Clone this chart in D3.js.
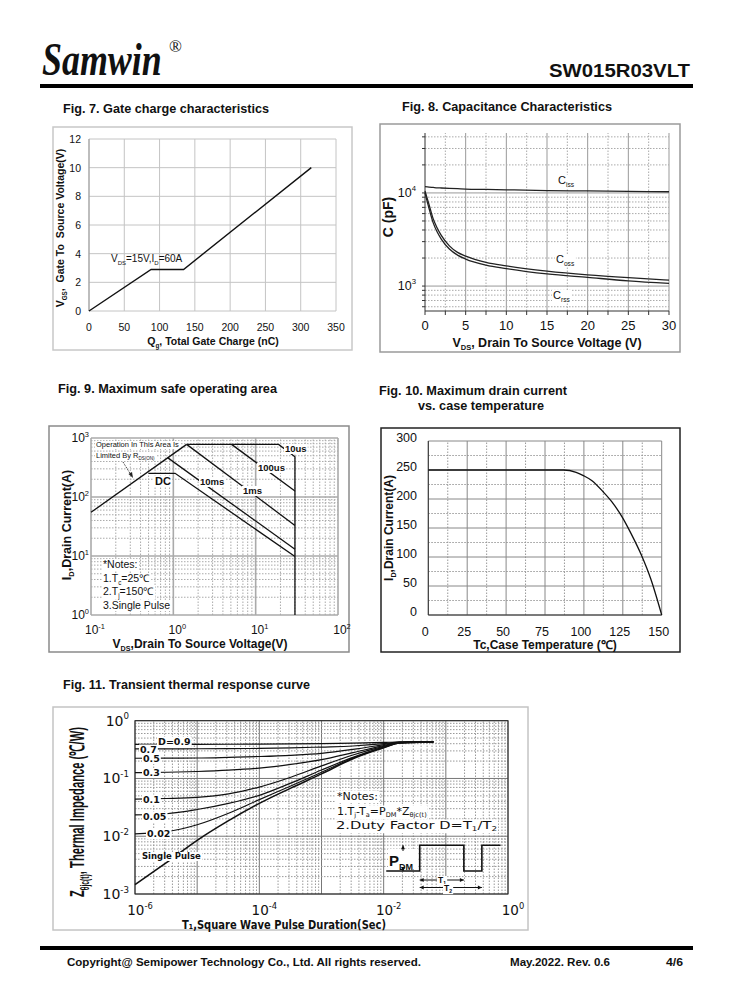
<!DOCTYPE html>
<html>
<head>
<meta charset="utf-8">
<script src="https://cdn.jsdelivr.net/npm/d3@7"></script>
<style>
  body { margin: 0; background: #fff; }
  svg { display: block; }
  text { font-family: 'Liberation Sans', Arial, sans-serif; fill: #111; white-space: pre; }
</style>
</head>
<body>
<svg id="page" width="738" height="1000"></svg>
<script>
// ---- data
// fig 7: gate charge (nC, V)
const gateCharge = [[0, 0], [88, 2.9], [134, 2.9], [315, 10]]
const gateXTicks = [0, 50, 100, 150, 200, 250, 300, 350]
const gateYTicks = [0, 2, 4, 6, 8, 10, 12]

// fig 8: capacitance (V, pF)
const capVds = [0, 0.5, 1, 1.5, 2, 3, 4, 5, 7.5, 10, 15, 20, 25, 30]
const ciss = [11700, 11550, 11450, 11350, 11300, 11200, 11100, 11000, 10900, 10800, 10600, 10500, 10400, 10300]
const coss = [10500, 7500, 5300, 4200, 3500, 2700, 2300, 2100, 1800, 1650, 1450, 1320, 1230, 1160]
const crss = [10000, 6800, 4800, 3800, 3200, 2500, 2150, 1950, 1680, 1540, 1350, 1240, 1140, 1070]
const capXTicks = [0, 5, 10, 15, 20, 25, 30]

// fig 9: safe operating area (V, A)
const soaRds = [[0.1, 55], [1.45, 780]]
const soa10us = [[1.45, 780], [19, 780], [30, 480], [30, 1]]
const soa100us = [[5.1, 780], [30, 126]]
const soa1ms = [[1.45, 780], [30, 33]]
const soa10ms = [[0.85, 465], [30, 13]]
const soaDC = [[0.5, 252], [1.05, 252], [30, 9.8]]
const soaNotes = ['*Notes:', '1.T|c|=25℃', '2.T|j|=150℃', '3.Single Pulse']

// fig 10: drain current vs case temperature (℃, A)
const derate = [[0, 250], [25, 250], [50, 250], [75, 250], [87, 250], [95, 246], [100, 240], [105, 232],
  [112.5, 212], [118, 195], [125, 167], [130, 142], [137, 103], [143, 62], [150, 0]]
const derateXTicks = [0, 25, 50, 75, 100, 125, 150]
const derateYTicks = [0, 50, 100, 150, 200, 250, 300]

// fig 11: transient thermal impedance (s, ℃/W)
const zthT = [1e-6, 3.2e-6, 1e-5, 3.2e-5, 1e-4, 3.2e-4, 1e-3, 3.2e-3, 1e-2, 1.8e-2, 6.3e-2]
const zthSeries = [
  {label: 'D=0.9', v: [0.39, 0.39, 0.39, 0.391, 0.393, 0.396, 0.40, 0.41, 0.42, 0.428, 0.43]},
  {label: '0.7', v: [0.324, 0.325, 0.327, 0.329, 0.331, 0.338, 0.35, 0.365, 0.40, 0.427, 0.43]},
  {label: '0.5', v: [0.224, 0.225, 0.226, 0.232, 0.24, 0.252, 0.272, 0.318, 0.385, 0.425, 0.43]},
  {label: '0.3', v: [0.126, 0.128, 0.132, 0.139, 0.151, 0.175, 0.212, 0.28, 0.37, 0.42, 0.43]},
  {label: '0.1', v: [0.044, 0.045, 0.047, 0.054, 0.071, 0.105, 0.165, 0.255, 0.36, 0.415, 0.43]},
  {label: '0.05', v: [0.0234, 0.0245, 0.029, 0.037, 0.051, 0.083, 0.14, 0.232, 0.35, 0.412, 0.43]},
  {label: '0.02', v: [0.011, 0.012, 0.0158, 0.025, 0.043, 0.074, 0.128, 0.225, 0.345, 0.41, 0.43]},
  {label: 'Single Pulse', v: [0.00145, 0.0035, 0.0085, 0.0186, 0.037, 0.068, 0.12, 0.22, 0.34, 0.41, 0.43]}
]
const pulseInset = [[0.011, 0.0025], [0.038, 0.0025], [0.038, 0.007], [0.195, 0.007], [0.195, 0.0025],
  [0.38, 0.0025], [0.38, 0.007], [0.76, 0.007]]

// ---- helpers
const svg = d3.select('#page')

const logTicks = (domain) => {
  const out = []
  const lo = Math.floor(Math.log10(domain[0]))
  const hi = Math.ceil(Math.log10(domain[1]))
  for (let e = lo; e <= hi; e++) {
    for (let m = 1; m <= 9; m++) {
      const v = m * Math.pow(10, e)
      if (v >= domain[0] * 0.999 && v <= domain[1] * 1.001) out.push({v, major: m === 1})
    }
  }
  return out
}

// label like 10^n
const powText = (g, x, y, exp, size, anchor) => {
  const t = g.append('text').attr('x', x).attr('y', y)
    .attr('font-size', size).attr('text-anchor', anchor || 'middle')
  t.append('tspan').text('10')
  t.append('tspan').attr('dy', -size * 0.45).attr('font-size', size * 0.62).text(exp)
  return t
}

// text with |sub| parts; 'box' puts a white patch behind it like the datasheet labels
const subText = (g, x, y, s, size, opts = {}) => {
  const t = g.append('text').attr('x', x).attr('y', y).attr('font-size', size)
  if (opts.bold) t.attr('font-weight', 'bold')
  if (opts.anchor) t.attr('text-anchor', opts.anchor)
  if (opts.family) t.style('font-family', opts.family)
  if (opts.len) t.attr('textLength', opts.len).attr('lengthAdjust', 'spacingAndGlyphs')
  s.split('|').forEach((part, i) => {
    if (!part) return
    const sub = i % 2 === 1
    const afterSub = i % 2 === 0 && i > 0
    t.append('tspan')
      .attr('dy', sub ? size * 0.25 : afterSub ? -size * 0.25 : 0)
      .attr('font-size', sub ? size * 0.6 : size)
      .text(part)
  })
  if (opts.box) {
    const b = t.node().getBBox()
    g.insert('rect', () => t.node())
      .attr('x', b.x - 1).attr('y', b.y + 1).attr('width', b.width + 2).attr('height', b.height - 1)
      .attr('fill', '#fff')
  }
  return t
}

const title = (x, y, s, len) => {
  svg.append('text').attr('x', x).attr('y', y).attr('font-size', 12.5)
    .attr('font-weight', 'bold').attr('textLength', len).attr('lengthAdjust', 'spacingAndGlyphs').text(s)
}

const frame = (x0, y0, x1, y1, color, w) => {
  svg.append('rect').attr('x', x0).attr('y', y0).attr('width', x1 - x0).attr('height', y1 - y0)
    .attr('fill', 'none').attr('stroke', color).attr('stroke-width', w)
}

const lineGen = (x, y, curve) => d3.line().x(d => x(d[0])).y(d => y(d[1])).curve(curve || d3.curveLinear)

// ---- page header and footer
// logo is squeezed sideways like the printed one
svg.append('text').attr('transform', 'translate(42,75) scale(0.78,1)').attr('font-size', 46)
  .attr('font-weight', 'bold').attr('font-style', 'italic')
  .style('font-family', "'Liberation Serif', 'Times New Roman', serif").text('Samwin')
svg.append('text').attr('x', 169).attr('y', 52).attr('font-size', 17)
  .style('font-family', "'Liberation Serif', serif").text('®')
svg.append('text').attr('x', 549).attr('y', 77).attr('font-size', 18).attr('font-weight', 'bold')
  .attr('textLength', 141).attr('lengthAdjust', 'spacingAndGlyphs').text('SW015R03VLT')
svg.append('rect').attr('x', 40).attr('y', 84).attr('width', 653).attr('height', 4).attr('fill', '#000')

svg.append('rect').attr('x', 40).attr('y', 946).attr('width', 653).attr('height', 4).attr('fill', '#000')
const foot = (x, s, len) => svg.append('text').attr('x', x).attr('y', 966).attr('font-size', 11.5)
  .attr('font-weight', 'bold').attr('textLength', len).attr('lengthAdjust', 'spacingAndGlyphs').text(s)
foot(67, 'Copyright@ Semipower Technology Co., Ltd. All rights reserved.', 354)
foot(510, 'May.2022. Rev. 0.6', 100)
foot(666, '4/6', 17)

// ---- fig 7: gate charge
{
  title(63, 113, 'Fig. 7. Gate charge characteristics', 206)
  frame(53, 127, 352, 350, '#c8c8c8', 1.5)
  const x = d3.scaleLinear([0, 350], [89, 336])
  const y = d3.scaleLinear([0, 12], [311, 139])
  const g = svg.append('g')
  g.selectAll('.vx').data(gateXTicks).join('line')
    .attr('x1', d => x(d)).attr('x2', d => x(d)).attr('y1', y(0)).attr('y2', y(12))
    .attr('stroke', '#c4c4c4')
  g.selectAll('.hy').data(gateYTicks).join('line').attr('class', 'hy')
    .attr('x1', x(0)).attr('x2', x(350)).attr('y1', d => y(d)).attr('y2', d => y(d))
    .attr('stroke', '#c4c4c4')
  g.append('line').attr('x1', x(0)).attr('x2', x(0)).attr('y1', y(0)).attr('y2', y(12)).attr('stroke', '#999')
  g.selectAll('.xl').data(gateXTicks).join('text').attr('class', 'xl')
    .attr('x', d => x(d)).attr('y', 330.5).attr('text-anchor', 'middle').attr('font-size', 10.5)
    .attr('fill', '#333').text(d => d)
  g.selectAll('.yl').data(gateYTicks).join('text').attr('class', 'yl')
    .attr('x', 81).attr('y', d => y(d) + 4).attr('text-anchor', 'end').attr('font-size', 10.5)
    .attr('fill', '#333').text(d => d)
  g.append('path').datum(gateCharge).attr('d', lineGen(x, y)).attr('fill', 'none')
    .attr('stroke', '#111').attr('stroke-width', 1.4)
  subText(g, 111, 262, 'V|DS|=15V,I|D|=60A', 10, {})
  subText(g, 213, 345, 'Q|g|, Total Gate Charge (nC)', 10.5, {bold: true, anchor: 'middle'})
  const yt = g.append('g').attr('transform', 'translate(64,228) rotate(-90)')
  subText(yt, 0, 0, 'V|GS|,  Gate To  Source Voltage(V)', 10.5, {bold: true, anchor: 'middle'})
}

// ---- fig 8: capacitance
{
  title(402, 111, 'Fig. 8. Capacitance Characteristics', 210)
  frame(380, 124, 680, 352, '#9a9a9a', 1.5)
  const x = d3.scaleLinear([0, 30], [425, 669])
  const y = d3.scaleLog([540, 44000], [311, 133])
  const g = svg.append('g')
  const minor = [2.5, 7.5, 12.5, 17.5, 22.5, 27.5]
  g.selectAll('.vm').data(minor).join('line').attr('class', 'vm')
    .attr('x1', d => x(d)).attr('x2', d => x(d)).attr('y1', 311).attr('y2', 133)
    .attr('stroke', '#aaa').attr('stroke-dasharray', '1.5,1.5')
  g.selectAll('.vx').data(capXTicks.slice(1)).join('line').attr('class', 'vx')
    .attr('x1', d => x(d)).attr('x2', d => x(d)).attr('y1', 311).attr('y2', 133)
    .attr('stroke', '#999')
  const yt = logTicks(y.domain())
  g.selectAll('.hy').data(yt).join('line').attr('class', 'hy')
    .attr('x1', x(0)).attr('x2', x(30)).attr('y1', d => y(d.v)).attr('y2', d => y(d.v))
    .attr('stroke', d => d.major ? '#999' : '#aaa')
    .attr('stroke-dasharray', d => d.major ? null : '1.5,1.5')
  g.selectAll('.tk').data(yt).join('line').attr('class', 'tk')
    .attr('x1', x(0) - 3).attr('x2', x(0)).attr('y1', d => y(d.v)).attr('y2', d => y(d.v))
    .attr('stroke', '#333')
  g.append('line').attr('x1', x(0)).attr('x2', x(0)).attr('y1', 311).attr('y2', 133).attr('stroke', '#333')
  g.append('line').attr('x1', x(0)).attr('x2', x(30)).attr('y1', 311).attr('y2', 311).attr('stroke', '#333')
  g.selectAll('.bt').data(capXTicks.concat(minor)).join('line').attr('class', 'bt')
    .attr('x1', d => x(d)).attr('x2', d => x(d)).attr('y1', 311).attr('y2', 315).attr('stroke', '#333')
  g.selectAll('.xl').data(capXTicks).join('text').attr('class', 'xl')
    .attr('x', d => x(d)).attr('y', 330).attr('text-anchor', 'middle').attr('font-size', 13)
    .attr('fill', '#222').text(d => d)
  powText(g, 416, y(1e4) + 4, '4', 12.5, 'end')
  powText(g, 416, y(1e3) + 4, '3', 12.5, 'end')
  const line = d3.line().x((d, i) => x(capVds[i])).y(d => y(d)).curve(d3.curveMonotoneX)
  ;[ciss, coss, crss].forEach(s => {
    g.append('path').datum(s).attr('d', line).attr('fill', 'none')
      .attr('stroke', '#222').attr('stroke-width', 1.3)
  })
  subText(g, 558, 184, 'C|iss|', 11, {box: true})
  subText(g, 556, 263, 'C|oss|', 11, {box: true})
  subText(g, 553, 299, 'C|rss|', 11, {box: true})
  subText(g, 547, 346.5, 'V|DS|, Drain To Source Voltage (V)', 12.5, {bold: true, anchor: 'middle'})
  g.append('text').attr('transform', 'translate(393,217) rotate(-90)').attr('text-anchor', 'middle')
    .attr('font-size', 14).attr('font-weight', 'bold').text('C (pF)')
}

// ---- fig 9: safe operating area
{
  title(58, 393, 'Fig. 9. Maximum safe operating area', 219)
  frame(49, 426, 349, 652, '#8a8a8a', 1.5)
  const x = d3.scaleLog([0.1, 100], [91, 338])
  const y = d3.scaleLog([1, 1000], [615, 438])
  const g = svg.append('g')
  const xt = logTicks(x.domain())
  const yt = logTicks(y.domain())
  g.selectAll('.vx').data(xt.filter(d => !d.major)).join('line').attr('class', 'vx')
    .attr('x1', d => x(d.v)).attr('x2', d => x(d.v)).attr('y1', 615).attr('y2', 438)
    .attr('stroke', '#aaa').attr('stroke-dasharray', '1.5,1.5')
  g.selectAll('.hy').data(yt.filter(d => !d.major)).join('line').attr('class', 'hy')
    .attr('x1', 91).attr('x2', 338).attr('y1', d => y(d.v)).attr('y2', d => y(d.v))
    .attr('stroke', '#aaa').attr('stroke-dasharray', '1.5,1.5')
  g.selectAll('.vX').data(xt.filter(d => d.major)).join('line').attr('class', 'vX')
    .attr('x1', d => x(d.v)).attr('x2', d => x(d.v)).attr('y1', 615).attr('y2', 438)
    .attr('stroke', '#aaa').attr('stroke-width', 1.6)
  g.selectAll('.hY').data(yt.filter(d => d.major)).join('line').attr('class', 'hY')
    .attr('x1', 91).attr('x2', 338).attr('y1', d => y(d.v)).attr('y2', d => y(d.v))
    .attr('stroke', '#aaa').attr('stroke-width', 1.6)
  ;['-1', '0', '1', '2'].forEach(e => powText(g, x(Math.pow(10, +e)) + 4, 634, e, 12, 'middle'))
  ;['0', '1', '2', '3'].forEach(e => powText(g, 89, y(Math.pow(10, +e)) + 4, e, 12, 'end'))
  // notes box and rds annotation
  soaNotes.forEach((s, i) => subText(g, 103, [568, 582, 595, 609][i], s, 10.5, {box: true}))
  subText(g, 96, 447, 'Operation In This Area Is', 7.5, {box: true})
  subText(g, 96, 458, 'Limited By R|DS(ON)|', 7.5, {box: true})
  g.append('line').attr('x1', 123).attr('y1', 462).attr('x2', 131).attr('y2', 475)
    .attr('stroke', '#222').attr('stroke-dasharray', '1,1')
  g.append('path').attr('d', 'M133,478 L128.5,474 L132,472 Z').attr('fill', '#222')
  ;[soaRds, soa10us, soa100us, soa1ms, soa10ms, soaDC].forEach(s => {
    g.append('path').datum(s).attr('d', lineGen(x, y)).attr('fill', 'none')
      .attr('stroke', '#111').attr('stroke-width', 1.3)
  })
  const lab = [['10us', 285, 452], ['100us', 258, 471], ['1ms', 243, 494], ['10ms', 200, 485], ['DC', 155, 485]]
  lab.forEach(d => subText(g, d[1], d[2], d[0], d[0] === 'DC' ? 11 : 9.5, {bold: true, box: true}))
  subText(g, 200, 648, 'V|DS|,Drain To Source Voltage(V)', 12, {bold: true, anchor: 'middle'})
  const ytl = g.append('g').attr('transform', 'translate(71,525) rotate(-90)')
  subText(ytl, 0, 0, 'I|D|,Drain Current(A)', 12.5, {bold: true, anchor: 'middle'})
}

// ---- fig 10: max drain current vs case temperature
{
  title(379, 394.5, 'Fig. 10. Maximum drain current', 188)
  title(418, 410, 'vs. case temperature', 126)
  frame(381, 428, 680, 652, '#222', 1.5)
  const x = d3.scaleLinear([0, 150], [428.3, 661.7])
  const y = d3.scaleLinear([0, 300], [615, 441])
  const g = svg.append('g')
  const xm = [12.5, 37.5, 62.5, 87.5, 112.5, 137.5]
  const ym = [25, 75, 125, 175, 225, 275]
  g.selectAll('.vm').data(xm).join('line').attr('class', 'vm')
    .attr('x1', d => x(d)).attr('x2', d => x(d)).attr('y1', y(0)).attr('y2', y(300))
    .attr('stroke', '#999').attr('stroke-dasharray', '1.5,1.5')
  g.selectAll('.hm').data(ym).join('line').attr('class', 'hm')
    .attr('x1', x(0)).attr('x2', x(150)).attr('y1', d => y(d)).attr('y2', d => y(d))
    .attr('stroke', '#999').attr('stroke-dasharray', '1.5,1.5')
  g.selectAll('.vx').data(derateXTicks).join('line').attr('class', 'vx')
    .attr('x1', d => x(d)).attr('x2', d => x(d)).attr('y1', y(0)).attr('y2', y(300))
    .attr('stroke', '#888')
  g.selectAll('.hy').data(derateYTicks).join('line').attr('class', 'hy')
    .attr('x1', x(0)).attr('x2', x(150)).attr('y1', d => y(d)).attr('y2', d => y(d))
    .attr('stroke', '#888')
  g.append('line').attr('x1', x(0)).attr('x2', x(0)).attr('y1', y(0)).attr('y2', y(300)).attr('stroke', '#333')
  g.append('line').attr('x1', x(0)).attr('x2', x(150)).attr('y1', y(0)).attr('y2', y(0)).attr('stroke', '#333')
  g.selectAll('.xl').data(derateXTicks).join('text').attr('class', 'xl')
    .attr('x', d => x(d) - 3).attr('y', 636).attr('text-anchor', 'middle').attr('font-size', 12.5)
    .attr('fill', '#222').text(d => d)
  g.selectAll('.yl').data(derateYTicks).join('text').attr('class', 'yl')
    .attr('x', 417).attr('y', d => y(d) + 0.5).attr('text-anchor', 'end').attr('font-size', 12.5)
    .attr('fill', '#222').text(d => d)
  g.append('path').datum(derate).attr('d', lineGen(x, y, d3.curveMonotoneX)).attr('fill', 'none')
    .attr('stroke', '#111').attr('stroke-width', 1.3)
  g.append('text').attr('x', 545).attr('y', 648.5).attr('text-anchor', 'middle')
    .attr('font-size', 12).attr('font-weight', 'bold').text('Tc,Case Temperature (℃)')
  const ytl = g.append('g').attr('transform', 'translate(393,528) rotate(-90)')
  subText(ytl, 0, 0, 'I|D|,Drain Current(A)', 12, {bold: true, anchor: 'middle'})
}

// ---- fig 11: transient thermal response
{
  title(63, 689, 'Fig. 11. Transient thermal response curve', 247)
  frame(53, 707, 528, 930, '#c4c4c4', 1.5)
  const x = d3.scaleLog([1e-6, 1], [135, 508])
  const y = d3.scaleLog([1e-3, 1], [894, 720.7])
  const g = svg.append('g')
  const xt = logTicks(x.domain())
  const yt = logTicks(y.domain())
  g.selectAll('.vx').data(xt).join('line').attr('class', 'vx')
    .attr('x1', d => x(d.v)).attr('x2', d => x(d.v)).attr('y1', 894).attr('y2', 720.7)
    .attr('stroke', d => d.major ? '#777' : '#999')
    .attr('stroke-dasharray', d => d.major ? null : '1.5,1.5')
  g.selectAll('.hy').data(yt).join('line').attr('class', 'hy')
    .attr('x1', 135).attr('x2', 508).attr('y1', d => y(d.v)).attr('y2', d => y(d.v))
    .attr('stroke', d => d.major ? '#777' : '#999')
    .attr('stroke-dasharray', d => d.major ? null : '1.5,1.5')
  g.append('rect').attr('x', 135).attr('y', 720.7).attr('width', 373).attr('height', 173.3)
    .attr('fill', 'none').attr('stroke', '#222')
  const dej = "'DejaVu Sans', Verdana, sans-serif"
  ;['-6', '-4', '-2', '0'].forEach(e => powText(g, x(Math.pow(10, +e)) + 5, 915, e, 13.5, 'middle')
    .style('font-family', dej))
  ;['0', '-1', '-2', '-3'].forEach(e => powText(g, 129, y(Math.pow(10, +e)) + 5, e, 14, 'end')
    .style('font-family', dej))
  // notes
  subText(g, 337, 800, '*Notes:', 11, {family: dej, box: true})
  subText(g, 337, 814.5, '1.T|j|-T|a|=P|DM|*Z|θjc(t)|', 11, {family: dej, box: true})
  subText(g, 336, 828.5, '2.Duty Factor D=T|1|/T|2|', 11, {family: dej, box: true, len: 161})
  // pulse inset
  g.append('path').datum(pulseInset).attr('d', lineGen(x, y)).attr('fill', 'none')
    .attr('stroke', '#111').attr('stroke-width', 1.6)
  g.append('rect').attr('x', 388).attr('y', 849).attr('width', 30).attr('height', 20).attr('fill', '#fff')
  subText(g, 389, 866, 'P|DM|', 15, {bold: true})
  const ax = 403, x1 = x(0.038), x2 = x(0.195), x3 = x(0.38)
  const arr = (d) => g.append('path').attr('d', d).attr('fill', '#111')
  g.append('line').attr('x1', ax).attr('x2', ax).attr('y1', y(0.007)).attr('y2', 851).attr('stroke', '#111')
  g.append('line').attr('x1', ax).attr('x2', ax).attr('y1', 868).attr('y2', y(0.0025)).attr('stroke', '#111')
  arr(`M${ax},${y(0.007)} l-2,4 l4,0 Z`)
  arr(`M${ax},${y(0.0025)} l-2,-4 l4,0 Z`)
  g.append('line').attr('x1', x1).attr('x2', x2).attr('y1', 880).attr('y2', 880).attr('stroke', '#111')
  g.append('line').attr('x1', x1).attr('x2', x3).attr('y1', 887.5).attr('y2', 887.5).attr('stroke', '#111')
  arr(`M${x1},880 l4,-2 l0,4 Z`); arr(`M${x2},880 l-4,-2 l0,4 Z`)
  arr(`M${x1},887.5 l4,-2 l0,4 Z`); arr(`M${x3},887.5 l-4,-2 l0,4 Z`)
  subText(g, 442, 883, 'T|1|', 8.5, {bold: true, anchor: 'middle', box: true})
  subText(g, 448, 891, 'T|2|', 8.5, {bold: true, anchor: 'middle', box: true})
  // curves
  const line = d3.line().x((d, i) => x(zthT[i])).y(d => y(d)).curve(d3.curveMonotoneX)
  zthSeries.forEach(s => {
    g.append('path').datum(s.v).attr('d', line).attr('fill', 'none')
      .attr('stroke', '#111').attr('stroke-width', s.label === 'Single Pulse' ? 1.6 : 1.2)
  })
  const lp = [[158, 745], [140, 752.5], [143, 762], [143, 776], [143, 802.5], [143, 820], [147, 837], [142, 859]]
  zthSeries.forEach((s, i) => subText(g, lp[i][0], lp[i][1], s.label, s.label === 'Single Pulse' ? 8.5 : 9.5,
    {bold: true, box: true, family: dej}))
  g.append('text').attr('x', 284).attr('y', 929).attr('text-anchor', 'middle').attr('font-size', 13)
    .attr('font-weight', 'bold').style('font-family', dej).attr('textLength', 204)
    .attr('lengthAdjust', 'spacingAndGlyphs').text('T₁,Square Wave Pulse Duration(Sec)')
  const ytl = g.append('g').attr('transform', 'translate(84,812) rotate(-90)')
  subText(ytl, 0, 0, 'Z|θjc(t)|, Thermal Impedance (℃/W)', 20, {bold: true, anchor: 'middle', len: 170})
}
</script>
</body>
</html>
